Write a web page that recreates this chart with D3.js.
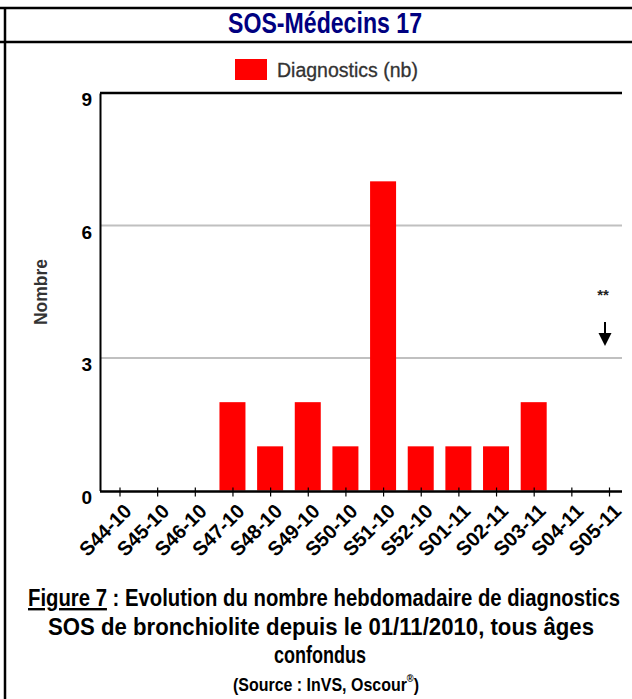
<!DOCTYPE html>
<html>
<head>
<meta charset="utf-8">
<script src="https://cdn.jsdelivr.net/npm/d3@7"></script>
<style>
  html, body { margin: 0; padding: 0; background: #fff; }
  svg { display: block; }
</style>
</head>
<body>
<svg id="chart" width="632" height="699"></svg>
<script>
const categories = ["S44-10","S45-10","S46-10","S47-10","S48-10","S49-10","S50-10","S51-10","S52-10","S01-11","S02-11","S03-11","S04-11","S05-11"];
const values = [0,0,0,2,1,2,1,7,1,1,1,2,0,0];
const yTicks = [0,3,6,9];
const seriesName = "Diagnostics (nb)";
const chartTitle = "SOS-Médecins 17";
const yLabel = "Nombre";
const noteCategory = "S05-11";
const noteText = "**";

const svg = d3.select("#chart");
const sans = "'Liberation Sans', Arial, sans-serif";

// frame
svg.append("line").attr("x1",0).attr("x2",632).attr("y1",8).attr("y2",8).attr("stroke","#000").attr("stroke-width",2.5);
svg.append("line").attr("x1",0).attr("x2",632).attr("y1",42).attr("y2",42).attr("stroke","#000").attr("stroke-width",2.5);
svg.append("line").attr("x1",5).attr("x2",5).attr("y1",7).attr("y2",699).attr("stroke","#000").attr("stroke-width",2.5);

// title
svg.append("text").attr("x",325).attr("y",33).attr("text-anchor","middle")
  .attr("font-family",sans).attr("font-weight","bold").attr("font-size",29)
  .attr("textLength",194).attr("lengthAdjust","spacingAndGlyphs")
  .attr("fill","#000080").text(chartTitle);

// legend
svg.append("rect").attr("x",235).attr("y",59).attr("width",32).attr("height",21).attr("fill","#ff0000");
svg.append("text").attr("x",277).attr("y",77).attr("font-family",sans).attr("font-size",19.5)
  .attr("fill","#333").attr("stroke","#333").attr("stroke-width",0.3).text(seriesName);

// scales
const x = d3.scalePoint().domain(categories).range([119.5, 609]);
const y = d3.scaleLinear().domain([0, 9]).range([490.5, 93]);
const plotL = 100, plotR = 622;
const barW = 26;

// gridlines
svg.append("g").selectAll("line").data(yTicks.filter(t => t > 0 && t < 9)).join("line")
  .attr("x1", plotL).attr("x2", plotR).attr("y1", d => y(d)).attr("y2", d => y(d))
  .attr("stroke","#c0c0c0").attr("stroke-width",2);

// top border of plot
svg.append("line").attr("x1",plotL).attr("x2",plotR).attr("y1",y(9)).attr("y2",y(9))
  .attr("stroke","#000").attr("stroke-width",2.5);

// bars
svg.append("g").selectAll("rect").data(values.map((v,i)=>({c:categories[i], v}))).join("rect")
  .attr("x", d => x(d.c) - barW/2).attr("width", barW)
  .attr("y", d => y(d.v)).attr("height", d => y(0) - y(d.v))
  .attr("fill","#ff0000");

// y axis
const yAxis = d3.axisLeft(y).tickValues(yTicks).tickSize(0).tickPadding(8);
const gy = svg.append("g").attr("transform",`translate(${plotL},0)`).call(yAxis);
gy.select(".domain").attr("stroke","#000").attr("stroke-width",2);
gy.selectAll("text").attr("font-family",sans).attr("font-weight","bold").attr("font-size",19)
  .attr("fill","#000").attr("dy","0.68em");

// x axis
const xAxis = d3.axisBottom(x).tickSize(4).tickSizeOuter(0).tickPadding(0);
const gx = svg.append("g").attr("transform",`translate(0,${y(0)+1})`).call(xAxis);
gx.select(".domain").attr("d", `M${plotL},0H${plotR}`).attr("stroke","#000").attr("stroke-width",2.5);
gx.selectAll(".tick line").attr("y1",-4).attr("y2",5).attr("stroke","#000").attr("stroke-width",1.2);
gx.selectAll(".tick text")
  .attr("font-family",sans).attr("font-weight","bold").attr("font-size",20).attr("fill","#000")
  .attr("text-anchor","end").attr("dy",null)
  .attr("textLength",64).attr("lengthAdjust","spacingAndGlyphs")
  .attr("transform","translate(10,18) rotate(-45)");

// y label
svg.append("text").attr("transform","translate(47,292) rotate(-90)").attr("text-anchor","middle")
  .attr("font-family",sans).attr("font-weight","bold").attr("font-size",18).attr("fill","#333")
  .attr("textLength",66).attr("lengthAdjust","spacingAndGlyphs")
  .text(yLabel);

// annotation
const ax = x(noteCategory) - 4;
svg.append("text").attr("x",ax - 2).attr("y",300).attr("text-anchor","middle")
  .attr("font-family",sans).attr("font-weight","bold").attr("font-size",15).attr("fill","#222").text(noteText);
svg.append("line").attr("x1",ax).attr("x2",ax).attr("y1",322).attr("y2",334).attr("stroke","#000").attr("stroke-width",2);
svg.append("path").attr("d",`M${ax-6.5},333L${ax+6.5},333L${ax},346Z`).attr("fill","#000");

// caption
const cap = svg.append("g").attr("font-family",sans).attr("font-weight","bold").attr("fill","#000");
const l1 = cap.append("text").attr("x",324).attr("y",606).attr("text-anchor","middle").attr("font-size",24)
  .attr("textLength",592).attr("lengthAdjust","spacingAndGlyphs");
l1.append("tspan").attr("text-decoration","underline").text("Figure 7");
l1.append("tspan").text(" : Evolution du nombre hebdomadaire de diagnostics");
cap.append("text").attr("x",321).attr("y",635).attr("text-anchor","middle").attr("font-size",24)
  .attr("textLength",546).attr("lengthAdjust","spacingAndGlyphs")
  .text("SOS de bronchiolite depuis le 01/11/2010, tous âges");
cap.append("text").attr("x",320).attr("y",663).attr("text-anchor","middle").attr("font-size",24)
  .attr("textLength",92).attr("lengthAdjust","spacingAndGlyphs")
  .text("confondus");
const src = cap.append("text").attr("x",326).attr("y",691).attr("text-anchor","middle").attr("font-size",19)
  .attr("textLength",186).attr("lengthAdjust","spacingAndGlyphs");
src.append("tspan").text("(Source : InVS, Oscour");
src.append("tspan").attr("font-size",11).attr("dy",-9).text("®");
src.append("tspan").attr("dy",9).text(")");
</script>
</body>
</html>
